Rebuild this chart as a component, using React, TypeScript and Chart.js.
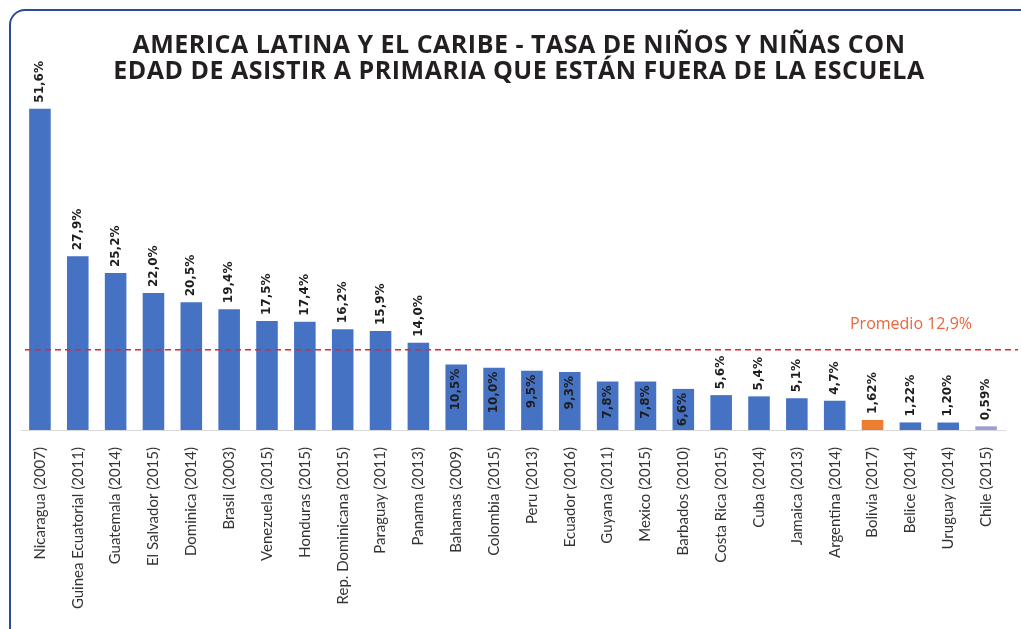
import React, { useEffect, useRef } from "react";
import { Chart, registerables } from "chart.js";

Chart.register(...registerables);

const categories = [
  "Nicaragua (2007)", "Guinea Ecuatorial (2011)", "Guatemala (2014)", "El Salvador (2015)",
  "Dominica (2014)", "Brasil (2003)", "Venezuela (2015)", "Honduras (2015)",
  "Rep. Dominicana (2015)", "Paraguay (2011)", "Panama (2013)", "Bahamas (2009)",
  "Colombia (2015)", "Peru (2013)", "Ecuador (2016)", "Guyana (2011)", "Mexico (2015)",
  "Barbados (2010)", "Costa Rica (2015)", "Cuba (2014)", "Jamaica (2013)",
  "Argentina (2014)", "Bolivia (2017)", "Belice (2014)", "Uruguay (2014)", "Chile (2015)",
];

const values = [
  51.6, 27.9, 25.2, 22.0, 20.5, 19.4, 17.5, 17.4, 16.2, 15.9, 14.0, 10.5, 10.0, 9.5, 9.3,
  7.8, 7.8, 6.6, 5.6, 5.4, 5.1, 4.7, 1.62, 1.22, 1.2, 0.59,
];

const valueLabels = [
  "51,6%", "27,9%", "25,2%", "22,0%", "20,5%", "19,4%", "17,5%", "17,4%", "16,2%", "15,9%",
  "14,0%", "10,5%", "10,0%", "9,5%", "9,3%", "7,8%", "7,8%", "6,6%", "5,6%", "5,4%", "5,1%",
  "4,7%", "1,62%", "1,22%", "1,20%", "0,59%",
];

const insideLabelCategories = [
  "Bahamas (2009)", "Colombia (2015)", "Peru (2013)", "Ecuador (2016)",
  "Guyana (2011)", "Mexico (2015)", "Barbados (2010)",
];

const highlightCategory = "Bolivia (2017)";
const lightCategory = "Chile (2015)";

const average = 12.9;
const averageLabel = "Promedio 12,9%";

const titleLines = [
  "AMERICA LATINA Y EL CARIBE - TASA DE NIÑOS Y NIÑAS CON",
  "EDAD DE ASISTIR A PRIMARIA QUE ESTÁN FUERA DE LA ESCUELA",
];

const BLUE = "#4672c4";
const ORANGE = "#ed7d31";
const LIGHT = "#9a9fd2";

const decorPlugin = {
  id: "decor",
  afterDatasetsDraw(chart: any) {
    const ctx = chart.ctx;
    const meta = chart.getDatasetMeta(0);
    const yScale = chart.scales.y;
    const area = chart.chartArea;

    // average line
    const ya = yScale.getPixelForValue(average);
    ctx.save();
    ctx.strokeStyle = "#e0282c";
    ctx.lineWidth = 1.6;
    ctx.setLineDash([6, 4]);
    ctx.beginPath();
    ctx.moveTo(area.left + 4, ya);
    ctx.lineTo(chart.width - 3, ya);
    ctx.stroke();
    ctx.restore();

    ctx.save();
    ctx.fillStyle = "#e8663a";
    ctx.font = "16px 'Open Sans'";
    ctx.textAlign = "right";
    ctx.textBaseline = "alphabetic";
    ctx.fillText(averageLabel, area.right - 33, ya - 21);
    ctx.restore();

    // data labels
    meta.data.forEach((bar: any, i: number) => {
      const inside = insideLabelCategories.includes(categories[i]);
      ctx.save();
      ctx.fillStyle = "#1e1e1e";
      ctx.font = "bold 12px 'DejaVu Sans'";
      ctx.textBaseline = "middle";
      if (inside) {
        ctx.translate(bar.x, bar.y + 4);
        ctx.rotate(-Math.PI / 2);
        ctx.textAlign = "right";
      } else {
        ctx.translate(bar.x, bar.y - 6);
        ctx.rotate(-Math.PI / 2);
        ctx.textAlign = "left";
      }
      ctx.fillText(valueLabels[i], 0, 0);
      ctx.restore();
    });

    // title
    ctx.save();
    ctx.fillStyle = "#231f20";
    ctx.font = "bold 25px 'Open Sans'";
    try {
      (ctx as any).letterSpacing = "0.5px";
    } catch (e) {}
    ctx.textAlign = "center";
    ctx.textBaseline = "alphabetic";
    ctx.fillText(titleLines[0], 519, 53);
    ctx.fillText(titleLines[1], 519, 79);
    ctx.restore();
  },
};

export default function App() {
  const canvasRef = useRef<HTMLCanvasElement | null>(null);

  useEffect(() => {
    document.body.style.margin = "0";
    const canvas = canvasRef.current;
    if (!canvas) return;
    const colors = categories.map((c) =>
      c === highlightCategory ? ORANGE : c === lightCategory ? LIGHT : BLUE
    );
    const chart = new Chart(canvas, {
      type: "bar",
      data: {
        labels: categories,
        datasets: [
          {
            data: values,
            backgroundColor: colors,
            borderWidth: 0,
            categoryPercentage: 1,
            barPercentage: 0.57,
          },
        ],
      },
      options: {
        animation: false,
        responsive: false,
        maintainAspectRatio: false,
        layout: { padding: { top: 100, left: 21, right: 16, bottom: 0 } },
        plugins: {
          legend: { display: false },
          title: { display: false },
          tooltip: { enabled: false },
        },
        scales: {
          x: {
            grid: { display: false },
            border: { display: true, color: "#d9d9d9", width: 1 },
            ticks: {
              minRotation: 90,
              maxRotation: 90,
              autoSkip: false,
              padding: 9,
              color: "#333333",
              font: { family: "Lato", size: 15 },
            },
            afterFit: (scale: any) => {
              scale.height = 199;
            },
          },
          y: {
            display: false,
            min: 0,
            max: 53,
          },
        },
      },
      plugins: [decorPlugin],
    });
    return () => chart.destroy();
  }, []);

  return (
    <div style={{ position: "relative", width: 1021, height: 629, overflow: "hidden", background: "#fff" }}>
      <div
        style={{
          position: "absolute",
          left: 9,
          top: 9,
          width: 1040,
          height: 660,
          border: "2.5px solid #2a4b9b",
          borderRadius: 16,
          boxSizing: "border-box",
        }}
      />
      <canvas ref={canvasRef} width={1021} height={629} style={{ position: "absolute", left: 0, top: 0 }} />
    </div>
  );
}
